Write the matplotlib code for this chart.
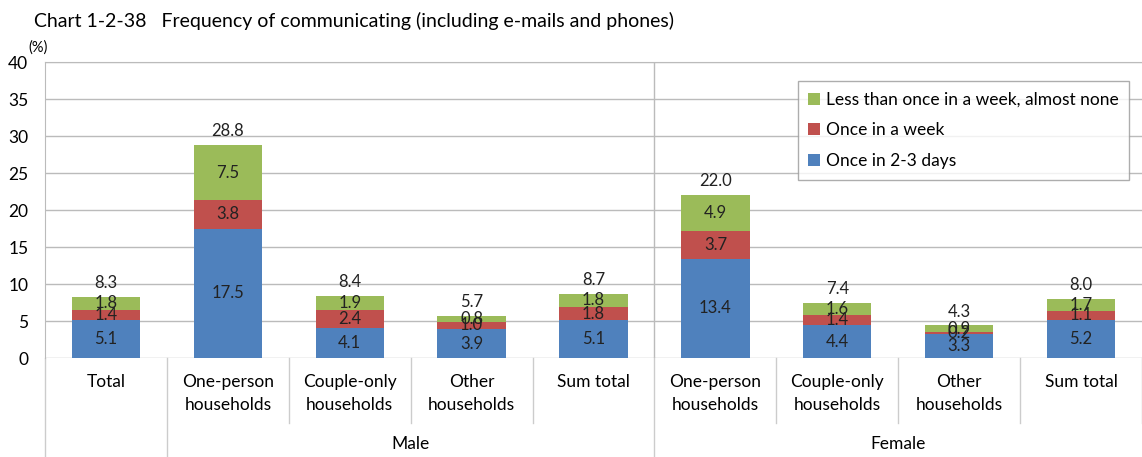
import numpy as np
import matplotlib.pyplot as plt
from matplotlib.transforms import blended_transform_factory

plt.rcParams['font.family'] = ['Lato', 'DejaVu Sans']

# data
categories = ["Total", "One-person\nhouseholds", "Couple-only\nhouseholds", "Other\nhouseholds", "Sum total",
              "One-person\nhouseholds", "Couple-only\nhouseholds", "Other\nhouseholds", "Sum total"]
groups = ["Male", "Female"]
every_2_3_days = [5.1, 17.5, 4.1, 3.9, 5.1, 13.4, 4.4, 3.3, 5.2]
once_a_week = [1.4, 3.8, 2.4, 1.0, 1.8, 3.7, 1.4, 0.2, 1.1]
less_than_weekly = [1.8, 7.5, 1.9, 0.8, 1.8, 4.9, 1.6, 0.9, 1.7]
totals = [8.3, 28.8, 8.4, 5.7, 8.7, 22.0, 7.4, 4.3, 8.0]

c_blue = '#4F81BD'
c_red = '#C0504D'
c_green = '#9BBB59'

fig = plt.figure(figsize=(11.42, 4.57), dpi=100)
ax = fig.add_axes([0.0394, 0.2166, 0.9606, 0.6477])

x = np.arange(len(categories))
w = 0.56
b1 = ax.bar(x, every_2_3_days, w, color=c_blue, label="Once in 2-3 days", zorder=3)
b2 = ax.bar(x, once_a_week, w, bottom=every_2_3_days, color=c_red, label="Once in a week", zorder=3)
bot3 = np.array(every_2_3_days) + np.array(once_a_week)
b3 = ax.bar(x, less_than_weekly, w, bottom=bot3, color=c_green,
            label="Less than once in a week, almost none", zorder=3)

# segment labels
fs = 12
for i in range(len(x)):
    ax.text(x[i], every_2_3_days[i] / 2, "%.1f" % every_2_3_days[i], ha='center', va='center',
            fontsize=fs, color='#222222', zorder=4)
    ax.text(x[i], every_2_3_days[i] + once_a_week[i] / 2, "%.1f" % once_a_week[i], ha='center',
            va='center', fontsize=fs, color='#222222', zorder=4)
    ax.text(x[i], bot3[i] + less_than_weekly[i] / 2, "%.1f" % less_than_weekly[i], ha='center',
            va='center', fontsize=fs, color='#222222', zorder=4)
    ax.text(x[i], bot3[i] + less_than_weekly[i] + 0.8, "%.1f" % totals[i], ha='center',
            va='bottom', fontsize=fs, color='#222222', zorder=4)

ax.set_xlim(-0.5, len(x) - 0.5)
ax.set_ylim(0, 40)
ax.set_yticks(range(0, 41, 5))
ax.tick_params(axis='y', length=0, labelsize=12.5, pad=12)
ax.set_xticks([])
ax.grid(axis='y', color='#BBBBBB', linewidth=1, zorder=0)
for s in ['right', 'bottom']:
    ax.spines[s].set_visible(False)
ax.spines['left'].set_color('#BBBBBB')
ax.spines['top'].set_color('#BBBBBB')

# divider between male and female
ax.axvline(4.5, color='#BBBBBB', linewidth=1, zorder=1)

# category labels and separators under the axis
tr = blended_transform_factory(ax.transData, ax.transAxes)
for i, lab in enumerate(categories):
    ax.text(x[i], -0.055, lab, transform=tr, ha='center', va='top', fontsize=12.5, linespacing=1.55)
for b in np.arange(-0.5, len(x), 1.0):
    if b in (-0.5, 0.5, 4.5):
        y0 = -0.33
    else:
        y0 = -0.22
    ax.plot([b, b], [0, y0], transform=tr, color='#CCCCCC', linewidth=1, clip_on=False)
ax.text(2.5, -0.265, groups[0], transform=tr, ha='center', va='top', fontsize=12.5)
ax.text(6.5, -0.265, groups[1], transform=tr, ha='center', va='top', fontsize=12.5)

leg = ax.legend(handles=[b3, b2, b1], loc='upper right', bbox_to_anchor=(0.988, 0.935),
                fontsize=12.5, frameon=True, fancybox=False, edgecolor='#999999',
                handlelength=0.7, handleheight=0.7, handletextpad=0.3, labelspacing=0.85,
                borderpad=0.6, borderaxespad=0)
leg.get_frame().set_linewidth(1)

fig.text(0.03, 0.955, "Chart 1-2-38   Frequency of communicating (including e-mails and phones)",
         fontsize=14, ha='left', va='center')
fig.text(0.025, 0.897, "(%)", fontsize=10.5, ha='left', va='center')

fig.savefig("out.png", dpi=100)
